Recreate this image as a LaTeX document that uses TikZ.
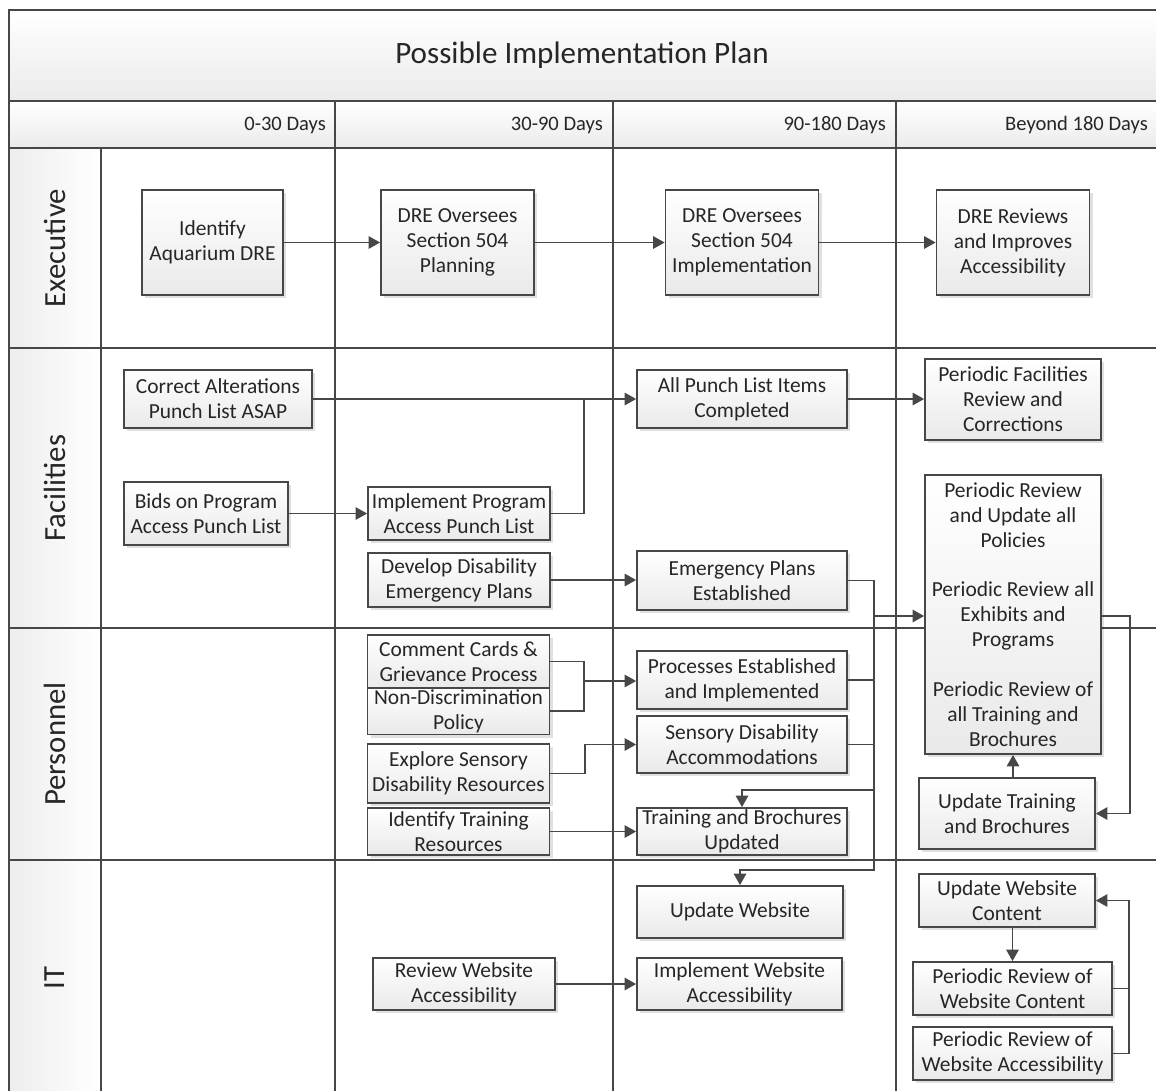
\documentclass[tikz,border=0pt]{standalone}
\usepackage{fontspec}
\setmainfont{Carlito}
\usetikzlibrary{arrows.meta, shadows}
\colorlet{linec}{black!72}
\tikzset{
  % --- Khung / lan ------------------------------------------
  grid/.style={draw=linec, line width=1.1pt},
  band/.style={top color=white, bottom color=gray!16},
  lanefill/.style={left color=gray!14, right color=white},
  lanelab/.style={rotate=90, text=black!85, font=\fontsize{17.5}{20}\selectfont},
  hdr/.style={anchor=east, text=black!85, font=\fontsize{11.7}{14}\selectfont},
  ttl/.style={text=black!85, font=\fontsize{17.7}{20}\selectfont},
  % --- Cong viec --------------------------------------------
  task/.style={draw=linec, line width=1pt, top color=white,
    bottom color=gray!17, align=center, inner sep=1pt, text=black!85,
    font=\fontsize{12.2}{14.2}\selectfont,
    drop shadow={shadow xshift=1.8pt, shadow yshift=-1.8pt,
      fill=black, opacity=0.12}},
  exbox/.style={task, minimum width=3.06cm, minimum height=2.1cm},
  wbox/.style={task, minimum width=4.2cm, minimum height=1.16cm},
  mbox/.style={task, minimum width=3.64cm, minimum height=1.06cm},
  rbox/.style={task, minimum width=3.52cm, minimum height=1.06cm},
  % --- Mui ten ----------------------------------------------
  conn/.style={draw=linec, line width=1pt,
    -{Triangle[length=6.5pt, width=7pt]}},
  link/.style={draw=linec, line width=1pt}
}

\begin{document}
\begin{tikzpicture}[x=0.02cm, y=-0.02cm]
  \useasboundingbox (0,0) rectangle (1156,1090);
  \clip (0,0) rectangle (1156,1090);

  % --- Nen: tieu de, hang thoi gian, cot lan ------------------
  \fill[band] (9,10) rectangle (1170,101);
  \fill[band] (9,101) rectangle (1170,148);
  \fill[lanefill] (9,148) rectangle (101,348);
  \fill[lanefill] (9,348) rectangle (101,628);
  \fill[lanefill] (9,628) rectangle (101,860);
  \fill[lanefill] (9,860) rectangle (101,1100);

  % --- Duong ke -----------------------------------------------
  \draw[grid] (9,1100) |- (1170,10);
  \foreach \yy in {101,148,348,628,860}
    \draw[grid] (9,\yy) -- (1170,\yy);
  \draw[grid] (101,148) -- (101,1100);
  \foreach \xx in {335,613,896}
    \draw[grid] (\xx,101) -- (\xx,1100);

  % --- Chu tieu de --------------------------------------------
  \node[ttl] (title) at (582,55) {Possible Implementation Plan};
  \node[hdr] (h1) at (332,125) {0-30 Days};
  \node[hdr] (h2) at (609,125) {30-90 Days};
  \node[hdr] (h3) at (892,125) {90-180 Days};
  \node[hdr] (h4) at (1154,125) {Beyond 180 Days};
  \node[lanelab] (lexec) at (55,248) {Executive};
  \node[lanelab] (lfac) at (55,488) {Facilities};
  \node[lanelab] (lpers) at (55,744) {Personnel};
  \node[lanelab] (lit) at (55,978) {IT};

  % --- Executive ----------------------------------------------
  \node[exbox, minimum width=2.82cm] (ident) at (212.5,242.5) {Identify\\Aquarium DRE};
  \node[exbox] (plan) at (457.5,242.5) {DRE Oversees\\Section 504\\Planning};
  \node[exbox] (impl) at (742,242.5) {DRE Oversees\\Section 504\\Implementation};
  \node[exbox] (rev) at (1013,242.5) {DRE Reviews\\and Improves\\Accessibility};

  % --- Facilities ---------------------------------------------
  \node[wbox, minimum width=3.76cm] (corr) at (218,399) {Correct Alterations\\Punch List ASAP};
  \node[wbox] (punch) at (742,399) {All Punch List Items\\Completed};
  \node[rbox, minimum height=1.62cm] (perfac) at (1013,399.5) {Periodic Facilities\\Review and\\Corrections};
  \node[mbox, minimum width=3.28cm, minimum height=1.26cm] (bids) at (206,513.5) {Bids on Program\\Access Punch List};
  \node[mbox] (implprog) at (459,513.5) {Implement Program\\Access Punch List};
  \node[mbox, minimum height=1.08cm] (develop) at (459,580) {Develop Disability\\Emergency Plans};
  \node[wbox, minimum height=1.18cm] (emerg) at (742,580.5) {Emergency Plans\\Established};
  \node[rbox, minimum height=5.58cm] (perrev) at (1013,614.5) {Periodic Review\\and Update all\\Policies\\[14.2pt]Periodic Review all\\Exhibits and\\Programs\\[14.2pt]Periodic Review of\\all Training and\\Brochures};

  % --- Personnel ----------------------------------------------
  \node[mbox] (comment) at (458.5,661.5) {Comment Cards \&\\Grievance Process};
  \node[mbox, minimum height=0.92cm] (nondisc) at (458.5,711) {Non-Discrimination\\Policy};
  \node[mbox, minimum height=1.18cm] (explore) at (458.5,773.5) {Explore Sensory\\Disability Resources};
  \node[mbox, minimum height=0.94cm] (idtrain) at (458.5,831.5) {Identify Training\\Resources};
  \node[wbox] (procs) at (742,680) {Processes Established\\and Implemented};
  \node[wbox, minimum height=1.14cm] (sensory) at (742,744.5) {Sensory Disability\\Accommodations};
  \node[wbox, minimum height=0.94cm] (training) at (742,831.5) {Training and Brochures\\Updated};
  \node[rbox, minimum height=1.42cm] (uptrain) at (1007,813.5) {Update Training\\and Brochures};

  % --- IT -----------------------------------------------------
  \node[wbox, minimum width=4.12cm, minimum height=1.04cm] (upweb) at (740,912) {Update Website};
  \node[mbox, minimum height=1.04cm] (reviewweb) at (464,984) {Review Website\\Accessibility};
  \node[wbox, minimum width=4.1cm, minimum height=1.04cm] (implweb) at (739.5,984) {Implement Website\\Accessibility};
  \node[rbox] (upcontent) at (1007,900.5) {Update Website\\Content};
  \node[rbox, minimum width=3.98cm] (revcontent) at (1012.5,988.5) {Periodic Review of\\Website Content};
  \node[rbox, minimum width=3.98cm] (revacc) at (1012.5,1053.5) {Periodic Review of\\Website Accessibility};

  % --- Diem noi -----------------------------------------------
  \coordinate (jA) at (584,399);
  \coordinate (jB) at (584,681);
  \coordinate (trunkA) at (874,616);
  \coordinate (trunkT) at (874,790);
  \coordinate (trunkB) at (874,870);
  \coordinate (loopA) at (1130,616);
  \coordinate (loopB) at (1129,988.5);

  % --- Quan he: executive -------------------------------------
  \draw[conn] (ident) -- (plan);
  \draw[conn] (plan) -- (impl);
  \draw[conn] (impl) -- (rev);

  % --- Quan he: facilities ------------------------------------
  \draw[conn] (corr.east) -- (corr.east -| punch.west);
  \draw[link] (implprog.east) -| (jA);
  \draw[conn] (punch.east) -- (punch.east -| perfac.west);
  \draw[conn] (bids) -- (implprog);
  \draw[conn] (develop.east) -- (develop.east -| emerg.west);

  % --- Quan he: personnel -------------------------------------
  \draw[link] (comment.east) -| (jB);
  \draw[link] (nondisc.east) -| (jB);
  \draw[conn] (jB) -- (jB -| procs.west);
  \draw[conn] (explore.east) -- ++(35,0) |- (sensory.west);
  \draw[conn] (idtrain) -- (training);

  % --- Truc chung ---------------------------------------------
  \draw[conn] (emerg.east) -| (trunkB) -| (upweb.north);
  \draw[link] (procs.east) -- (procs.east -| trunkB);
  \draw[link] (sensory.east) -- (sensory.east -| trunkB);
  \draw[conn] (trunkA) -- (trunkA -| perrev.west);
  \draw[conn] (trunkT) -| (training.north);
  \draw[conn] (perrev.east |- loopA) -- (loopA) |- (uptrain.east);
  \draw[conn] (uptrain.north -| perrev.south) -- (perrev.south);

  % --- Quan he: IT --------------------------------------------
  \draw[conn] (reviewweb) -- (implweb);
  \draw[conn] (upcontent.south -| revcontent.north) -- (revcontent.north);
  \draw[link] (revacc.east) -| (loopB);
  \draw[conn] (revcontent.east) -- (loopB) |- (upcontent.east);

\end{tikzpicture}
\end{document}
